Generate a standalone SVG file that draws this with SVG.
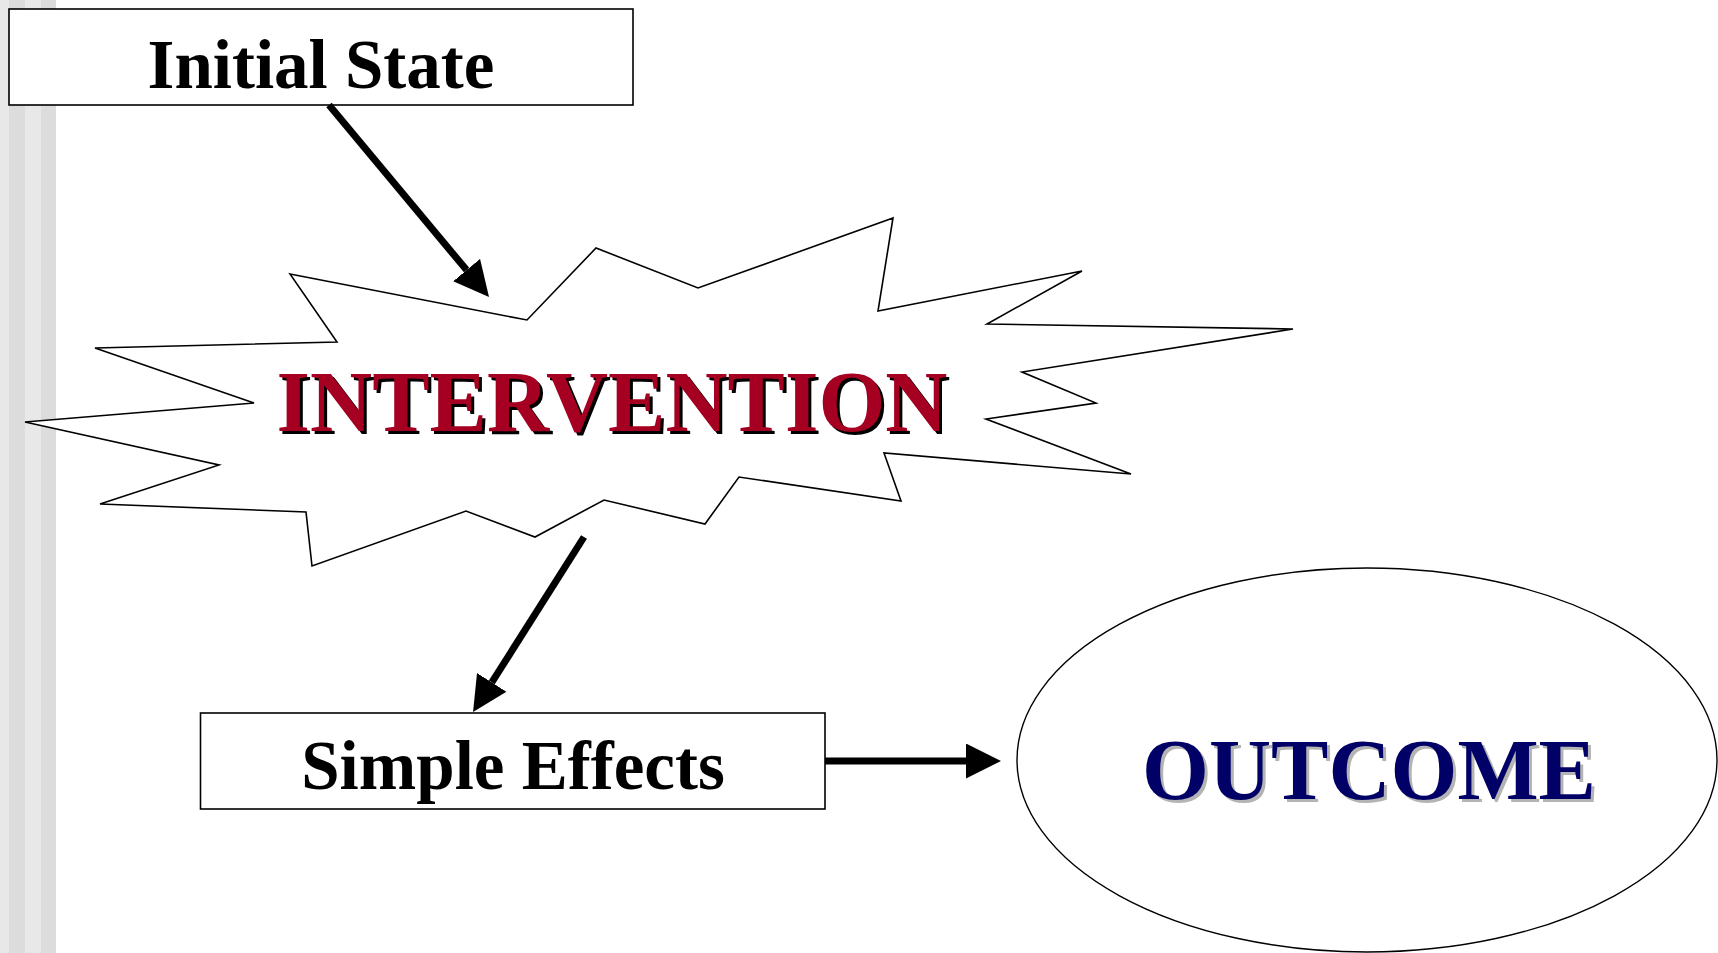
<svg xmlns="http://www.w3.org/2000/svg" width="1718" height="953" viewBox="0 0 1718 953">
  <defs>
    <style>
      .box { fill: #ffffff; stroke: #000000; stroke-width: 1.6; }
      .label { font-family: "Liberation Serif", "Times New Roman", serif; font-weight: bold; font-size: 69px; fill: #000000; text-anchor: middle; }
      .big { font-family: "Liberation Serif", "Times New Roman", serif; font-weight: bold; font-size: 86px; text-anchor: middle; }
      .conn { stroke: #000000; stroke-width: 7; fill: none; marker-end: url(#head); }
      .band-a { fill: #e8e8e8; }
      .band-b { fill: #dcdcdc; }
    </style>
    <marker id="head" markerUnits="userSpaceOnUse" viewBox="0 0 35 35" refX="0" refY="17.5" markerWidth="35" markerHeight="35" orient="auto">
      <path d="M0,0 L35,17.5 L0,35 Z" fill="#000000"/>
    </marker>
  </defs>

  <rect width="1718" height="953" fill="#ffffff"/>

  <!-- left margin bands -->
  <g id="margin">
    <rect class="band-a" x="0" y="0" width="9" height="953"/>
    <rect class="band-b" x="9" y="0" width="16" height="953"/>
    <rect class="band-a" x="25" y="0" width="16" height="953"/>
    <rect class="band-b" x="41" y="0" width="15" height="953"/>
  </g>

  <g id="initial-state">
    <rect class="box" x="9" y="9" width="624" height="96"/>
    <text class="label" x="321" y="88">Initial State</text>
  </g>

  <g id="intervention">
    <polygon fill="#ffffff" stroke="#000000" stroke-width="1.6" stroke-linejoin="miter"
      points="290,274 527,320 596,248 698,288 893,218 878,311 1082,271 987,324 1293,329 1022,372 1096,403 986,419 1131,474 884,453 901,501 739,477 705,524 604,500 535,537 466,511 312,566 306,512 100,504 219,465 25,422 254,403 95,348 337,342"/>
    <text class="big" x="615" y="434" fill="#000000">INTERVENTION</text>
    <text class="big" x="612" y="431" fill="#A50021">INTERVENTION</text>
  </g>

  <g id="simple-effects">
    <rect class="box" x="200.5" y="713" width="624.5" height="96"/>
    <text class="label" x="513" y="789">Simple Effects</text>
  </g>

  <g id="outcome">
    <ellipse cx="1367" cy="760" rx="350" ry="192" fill="#ffffff" stroke="#000000" stroke-width="1.4"/>
    <text class="big" x="1372" y="802" fill="#b4b4b4">OUTCOME</text>
    <text class="big" x="1369" y="799" fill="#000066">OUTCOME</text>
  </g>

  <g id="connectors">
    <line class="conn" x1="329" y1="105" x2="466.6" y2="270.1"/>
    <line class="conn" x1="584" y1="537" x2="491.8" y2="682.4"/>
    <line class="conn" x1="825" y1="761" x2="966" y2="761"/>
  </g>
</svg>
